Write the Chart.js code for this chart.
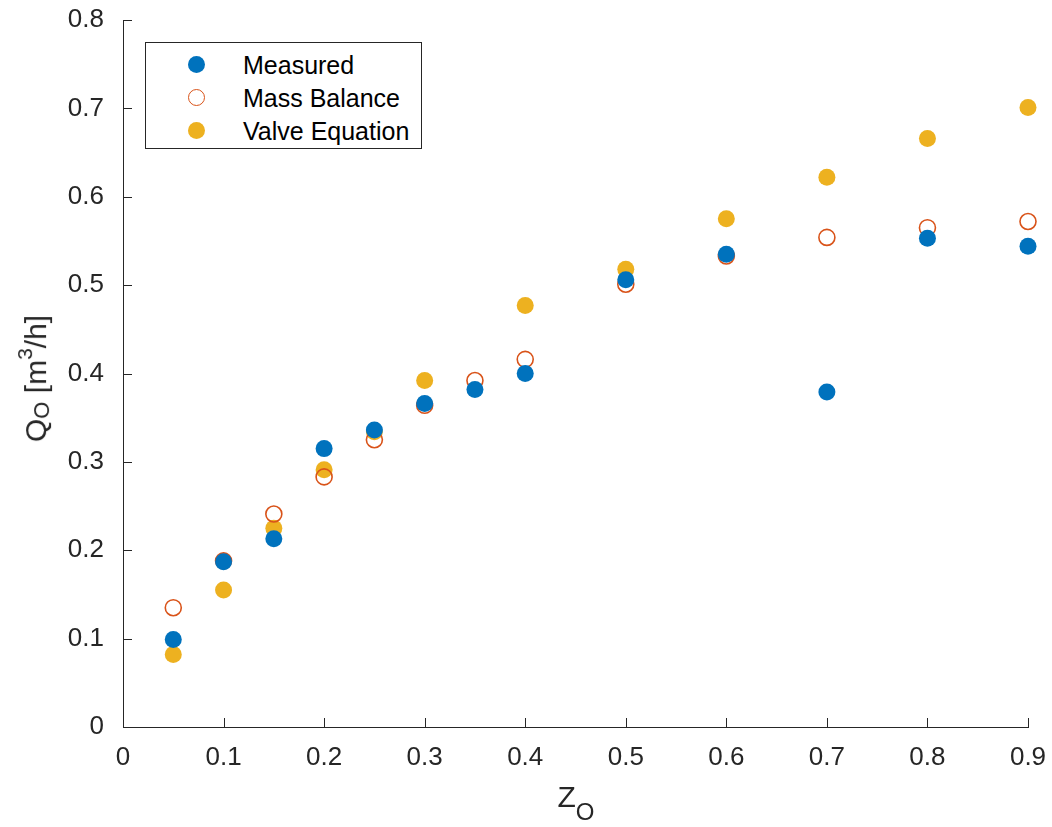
<!DOCTYPE html>
<html>
<head>
<meta charset="utf-8">
<script src="https://cdn.jsdelivr.net/npm/chart.js@4/dist/chart.umd.min.js"></script>
<style>
  body { margin: 0; background: #fff; }
  #wrap { position: relative; width: 1052px; height: 827px; }
  #legend {
    position: absolute; left: 145px; top: 42px; width: 275px; height: 105px;
    border: 1px solid #262626; background: #fff;
    font-family: "Liberation Sans", Arial, Helvetica, sans-serif; font-size: 25px; color: #000;
  }
  .item { position: absolute; left: 0; height: 26px; line-height: 26px; }
  .mk { position: absolute; left: 42px; top: 4px; width: 17px; height: 17px; border-radius: 50%; box-sizing: border-box; }
  .lbl { position: absolute; left: 97px; top: 0; white-space: nowrap; }
  .axtitle {
    position: absolute; font-family: "Liberation Sans", Arial, Helvetica, sans-serif;
    font-size: 30px; line-height: 30px; color: #262626; white-space: nowrap;
    transform-origin: center;
  }
  .axtitle span { position: relative; }
</style>
</head>
<body>
<div id="wrap">
  <canvas id="myChart" width="1052" height="827"></canvas>
  <div id="legend"></div>
  <div class="axtitle" id="xtitle">Z<span style="font-size:24px; top:13px;">O</span></div>
  <div class="axtitle" id="ytitle">Q<span style="font-size:22px; top:3px;">O</span> [m<span style="font-size:21px; top:-14px;">3</span>/h]</div>
</div>
<script>
var zValues = [0.05, 0.1, 0.15, 0.2, 0.25, 0.3, 0.35, 0.4, 0.5, 0.6, 0.7, 0.8, 0.9];
var measured = [0.099, 0.187, 0.213, 0.315, 0.336, 0.366, 0.382, 0.400, 0.506, 0.535, 0.379, 0.553, 0.544];
var massBalance = [0.135, 0.188, 0.241, 0.283, 0.325, 0.364, 0.392, 0.416, 0.501, 0.533, 0.554, 0.565, 0.572];
var valveEquation = [0.082, 0.155, 0.225, 0.291, 0.334, 0.392, null, 0.477, 0.518, 0.575, 0.622, 0.666, 0.701];
var seriesNames = ["Measured", "Mass Balance", "Valve Equation"];
var xTicks = [0, 0.1, 0.2, 0.3, 0.4, 0.5, 0.6, 0.7, 0.8, 0.9];
var yTicks = [0, 0.1, 0.2, 0.3, 0.4, 0.5, 0.6, 0.7, 0.8];

var blue = '#0072BD', red = '#D95319', yellow = '#EDB120';

function toPoints(vals) {
    var pts = [];
    for (var i = 0; i < zValues.length; i++) {
        if (vals[i] !== null) pts.push({x: zValues[i], y: vals[i]});
    }
    return pts;
}

// ticks pointing into the plot, matlab style
var innerTicks = {
    id: 'innerTicks',
    afterDraw: function(chart) {
        var ctx = chart.ctx, a = chart.chartArea;
        var xs = chart.scales.x, ys = chart.scales.y;
        ctx.save();
        ctx.strokeStyle = '#262626';
        ctx.lineWidth = 1;
        ctx.beginPath();
        xTicks.forEach(function(v) {
            var px = Math.round(xs.getPixelForValue(v)) + 0.5;
            ctx.moveTo(px, a.bottom);
            ctx.lineTo(px, a.bottom - 9);
        });
        yTicks.forEach(function(v) {
            var py = Math.round(ys.getPixelForValue(v)) + 0.5;
            ctx.moveTo(a.left, py);
            ctx.lineTo(a.left + 9, py);
        });
        ctx.stroke();
        ctx.restore();
    }
};

var tickFont = { family: '"Liberation Sans", Arial, Helvetica, sans-serif', size: 26 };

var ctx = document.getElementById("myChart");
var myChart = new Chart(ctx, {
    type: 'scatter',
    data: {
        datasets: [{
            label: seriesNames[0],
            data: toPoints(measured),
            backgroundColor: blue,
            borderColor: blue,
            borderWidth: 0,
            pointRadius: 8.5,
            clip: false
        }, {
            label: seriesNames[1],
            data: toPoints(massBalance),
            backgroundColor: 'rgba(0,0,0,0)',
            borderColor: red,
            borderWidth: 1.6,
            pointRadius: 8,
            clip: false
        }, {
            label: seriesNames[2],
            data: toPoints(valveEquation),
            backgroundColor: yellow,
            borderColor: yellow,
            borderWidth: 0,
            pointRadius: 8.5,
            clip: false
        }]
    },
    options: {
        responsive: false,
        animation: false,
        events: [],
        layout: { padding: { left: 0, right: 24, top: 20, bottom: 0 } },
        plugins: { legend: { display: false }, tooltip: { enabled: false } },
        scales: {
            x: {
                type: 'linear', min: 0, max: 0.9,
                afterBuildTicks: function(s) { s.ticks = xTicks.map(function(v) { return {value: v}; }); },
                afterFit: function(s) { s.height = 100; s.paddingLeft = 0; s.paddingRight = 0; },
                grid: { display: false },
                border: { display: true, color: '#262626', width: 1 },
                ticks: {
                    color: '#262626', font: tickFont, padding: 7, maxRotation: 0,
                    callback: function(v) { return v === 0 ? '0' : v.toFixed(1); }
                }
            },
            y: {
                type: 'linear', min: 0, max: 0.8,
                afterBuildTicks: function(s) { s.ticks = yTicks.map(function(v) { return {value: v}; }); },
                afterFit: function(s) { s.width = 123; s.paddingTop = 0; s.paddingBottom = 0; },
                grid: { display: false },
                border: { display: true, color: '#262626', width: 1 },
                ticks: {
                    color: '#262626', font: tickFont, padding: 11,
                    callback: function(v) { return v === 0 ? '0' : v.toFixed(1); }
                }
            }
        }
    },
    plugins: [innerTicks]
});

// put axis titles with their centre at a given point
function placeTitle(id, cx, cy, rotate) {
    var el = document.getElementById(id);
    var w = el.offsetWidth, h = el.offsetHeight;
    el.style.left = (cx - w / 2) + 'px';
    el.style.top = (cy - h / 2) + 'px';
    if (rotate) el.style.transform = 'rotate(-90deg)';
}
placeTitle('xtitle', 576, 798, false);
placeTitle('ytitle', 37, 378, true);

// legend drawn as html in the upper left corner
var legendStyles = [
    'background:' + blue + ';',
    'border:1.6px solid ' + red + ';background:#fff;',
    'background:' + yellow + ';'
];
var legendEl = document.getElementById('legend');
for (var i = 0; i < seriesNames.length; i++) {
    var item = document.createElement('div');
    item.className = 'item';
    item.style.top = (9 + i * 33) + 'px';
    item.innerHTML = '<div class="mk" style="' + legendStyles[i] + '"></div><div class="lbl">' + seriesNames[i] + '</div>';
    legendEl.appendChild(item);
}
</script>
</body>
</html>
